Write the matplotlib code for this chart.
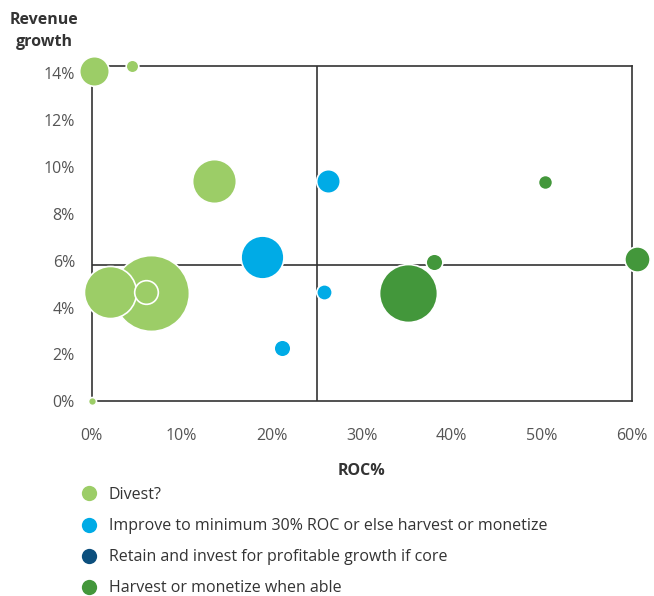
import matplotlib
matplotlib.use('Agg')
import matplotlib.pyplot as plt
from matplotlib.lines import Line2D

plt.rcParams['font.family'] = ['Open Sans', 'DejaVu Sans']

# Данные: ROC%, рост выручки %, относительный размер пузыря, группа
roc = [6.6, 0.3, 4.5, 13.6, 2.1, 6.05, 0.0,
       26.3, 18.9, 25.8, 21.1,
       50.4, 35.1, 38.0, 60.6]
growth = [4.6, 14.1, 14.3, 9.4, 4.66, 4.66, 0.0,
          9.4, 6.14, 4.67, 2.26,
          9.35, 4.64, 5.95, 6.07]
bubble = [144, 22, 4, 48, 68, 14, 1.6,
          14, 46, 6, 7,
          5, 84, 7, 16]
group = [0, 0, 0, 0, 0, 0, 0,
         1, 1, 1, 1,
         3, 3, 3, 3]

labels = ['Divest?',
          'Improve to minimum 30% ROC or else harvest or monetize',
          'Retain and invest for profitable growth if core',
          'Harvest or monetize when able']
colors = ['#9ccd67', '#00abe6', '#0c4f7d', '#43973b']

x_ticks = [0, 10, 20, 30, 40, 50, 60]
y_ticks = [0, 2, 4, 6, 8, 10, 12, 14]
roc_split = 25
growth_split = 5.8

fig = plt.figure(figsize=(6.54, 5.96), dpi=100)
ax = fig.add_axes([0.140, 0.3267, 0.826, 0.5623])

# Пузыри
for x, y, b, g in zip(roc, growth, bubble, group):
    ax.scatter(x, y, s=b * 20.7, color=colors[g], edgecolors='white',
               linewidths=1.2, zorder=3, clip_on=False)

# Линии квадрантов
ax.axvline(roc_split, color='#333333', lw=1.2, zorder=2)
ax.axhline(growth_split, color='#333333', lw=1.2, zorder=2)

ax.set_xlim(0, 60)
ax.set_ylim(0, 14.3)
ax.set_xticks(x_ticks)
ax.set_xticklabels([f'{t}%' for t in x_ticks])
ax.set_yticks(y_ticks)
ax.set_yticklabels([f'{t}%' for t in y_ticks])
ax.tick_params(length=0, labelsize=11.5, labelcolor='#555555')
ax.tick_params(axis='x', pad=19)
ax.tick_params(axis='y', pad=12)
for s in ax.spines.values():
    s.set_color('#333333')
    s.set_linewidth(1.2)

ax.set_xlabel('ROC%', fontsize=11.5, fontweight='bold', color='#333333', labelpad=14)
fig.text(0.068, 0.948, 'Revenue\ngrowth', ha='center', va='center',
         fontsize=11.5, fontweight='bold', color='#333333', linespacing=1.55)

handles = [Line2D([], [], marker='o', ls='none', markersize=11,
                  markerfacecolor=c, markeredgecolor='none') for c in colors]
fig.legend(handles, labels, loc='upper left', bbox_to_anchor=(0.122, 0.183),
           frameon=False, fontsize=11.5, labelcolor='#333333',
           handletextpad=0.6, labelspacing=0.95, handlelength=1.2,
           borderpad=0, borderaxespad=0)

fig.savefig('out.png', dpi=100)
